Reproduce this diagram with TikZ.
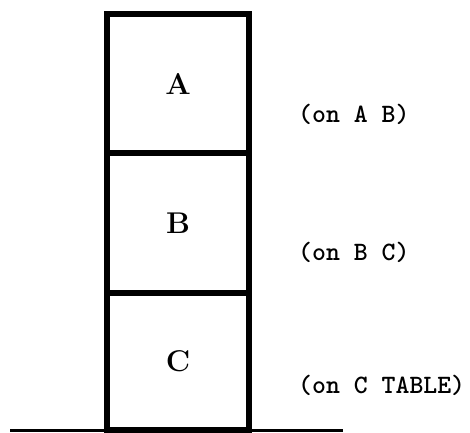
\documentclass[tikz,border=0pt]{standalone}
\usepackage{fontspec}
\newfontfamily\factfont{lmmonolt10-bold}[Extension=.otf]
\begin{document}
\begin{tikzpicture}[x=1pt,y=-1pt,
  block/.style={draw, line width=5.5pt, minimum width=142pt, inner sep=0pt,
    font=\fontsize{30}{31}\selectfont\bfseries},
  fact/.style={anchor=west, inner sep=0pt,
    font=\factfont\fontsize{26.5}{28}\selectfont}]
  \useasboundingbox (0,0) rectangle (470,432);
  % stacked blocks
  \node[block, minimum height=139pt] (A) at (178,83.5) {A};
  \node[block, minimum height=140pt] (B) at (178,223) {B};
  \node[block, minimum height=137pt] (C) at (178,361.5) {C};
  % table surface
  \coordinate (tl) at (10,430);
  \coordinate (tr) at (343,430);
  \draw[line width=3pt] (tl) -- (tr);
  % relations
  \node[fact] (r1) at (298,114) {(on A B)};
  \node[fact] (r2) at (298,252) {(on B C)};
  \node[fact] (r3) at (298,385) {(on C TABLE)};
\end{tikzpicture}
\end{document}
